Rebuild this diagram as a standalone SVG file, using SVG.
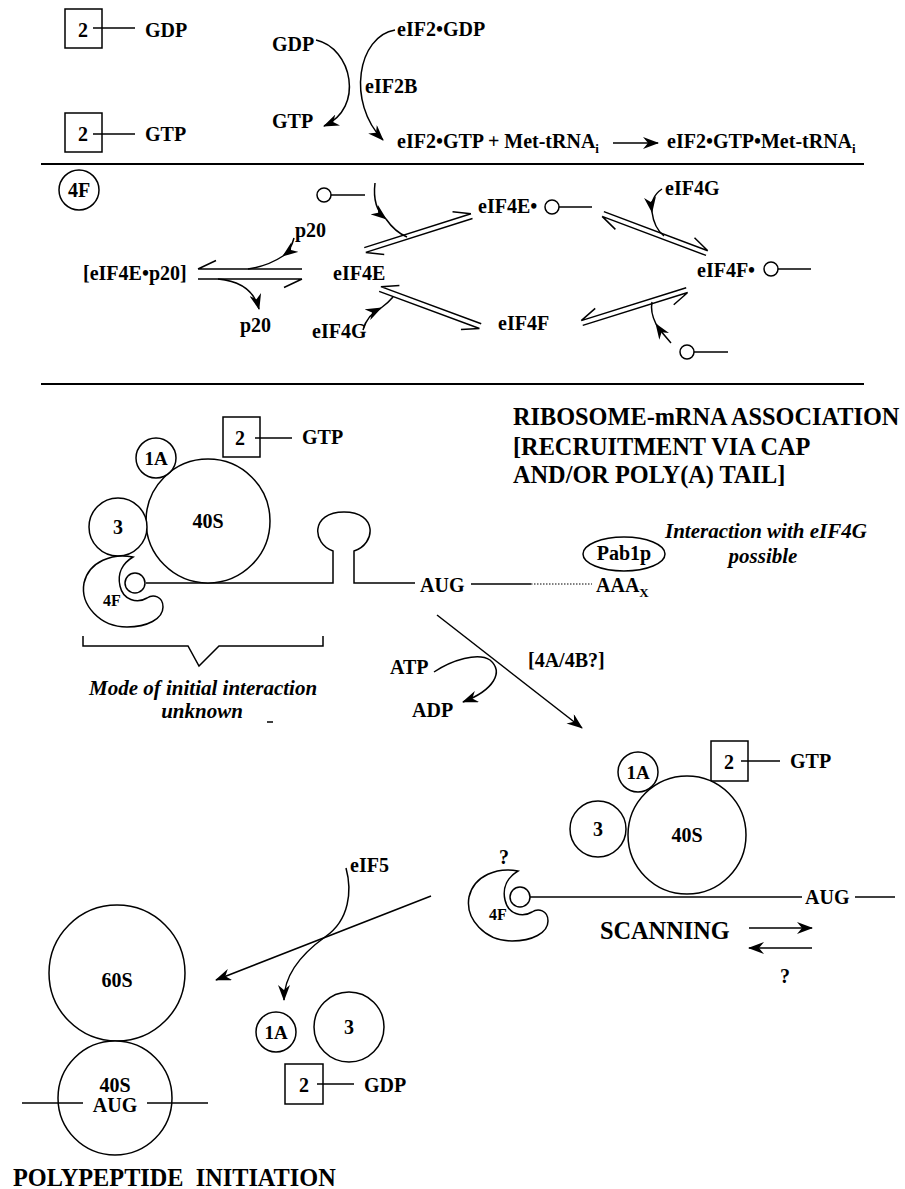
<svg xmlns="http://www.w3.org/2000/svg" width="905" height="1189" viewBox="0 0 905 1189">
<style>
.t{font-family:"Liberation Serif","Times New Roman",serif;font-weight:bold;font-size:20px;fill:#000}
.h{font-size:24.3px}
.it{font-style:italic;font-size:21px}
.sm{font-size:16px}
.sub{font-size:13px}
.m{text-anchor:middle}
.s{fill:none;stroke:#000;stroke-width:1.5}
.w{fill:#fff;stroke:#000;stroke-width:1.5}
.a{fill:none;stroke:#000;stroke-width:1.5;marker-end:url(#ah)}
.rule{stroke:#000;stroke-width:2}
</style>
<defs>
<marker id="ah" viewBox="0 0 16 12" refX="15" refY="6" markerWidth="16" markerHeight="12" markerUnits="userSpaceOnUse" orient="auto"><path d="M0,0 L16,6 L0,12 L5,6 Z" fill="#000"/></marker>
<path id="pac" d="M-2,-26 C-22,-30 -46,-22 -51,0 C-55,22 -35,44 -8,44 C12,44 28,36 28,24 C28,13 18,11 12,15 C2,21 -12,17 -15,3 C-18,-10 -12,-20 -2,-26 Z"/>
</defs>

<!-- separators -->
<line class="rule" x1="41" y1="164" x2="864" y2="164"/>
<line class="rule" x1="41" y1="384" x2="864" y2="384"/>

<!-- ===== Section 1: eIF2 recycling ===== -->
<g id="eif2-gdp-box">
<rect class="w" x="65" y="9" width="37" height="39"/>
<text class="t m" x="83" y="37">2</text>
<line class="s" x1="93" y1="28" x2="135" y2="28"/>
<text class="t" x="145" y="37">GDP</text>
</g>
<g id="eif2-gtp-box">
<rect class="w" x="65" y="113" width="37" height="39"/>
<text class="t m" x="83" y="141">2</text>
<line class="s" x1="93" y1="134" x2="135" y2="134"/>
<text class="t" x="145" y="141">GTP</text>
</g>
<g id="gdp-label"><text class="t" x="272" y="51">GDP</text></g>
<g id="gtp-label"><text class="t" x="272" y="128">GTP</text></g>
<g id="eif2b-label"><text class="t" x="365" y="93">eIF2B</text></g>
<g id="eif2-gdp"><text class="t" x="397" y="36">eIF2•GDP</text></g>
<g id="eif2-gtp-met"><text class="t" x="397" y="148">eIF2•GTP + Met-tRNA<tspan class="sub" dy="5">i</tspan></text></g>
<g id="ternary"><text class="t" x="667" y="148">eIF2•GTP•Met-tRNA<tspan class="sub" dy="5">i</tspan></text></g>

<!-- ===== Section 2: eIF4F ===== -->
<g id="f4-circle">
<circle class="w" cx="79" cy="190" r="20"/>
<text class="t m" x="79" y="197">4F</text>
</g>
<g id="cap-top">
<circle class="w" cx="324" cy="195" r="7"/>
<line class="s" x1="331" y1="195" x2="365" y2="195"/>
</g>
<g id="p20-top"><text class="t" x="295" y="237">p20</text></g>
<g id="eif4e-p20"><text class="t" x="83" y="280">[eIF4E•p20]</text></g>
<g id="eif4e"><text class="t" x="333" y="280">eIF4E</text></g>
<g id="p20-bottom"><text class="t" x="240" y="332">p20</text></g>
<g id="eif4g-left"><text class="t" x="312" y="338">eIF4G</text></g>
<g id="eif4e-cap">
<text class="t" x="478" y="213">eIF4E•</text>
<circle class="w" cx="552" cy="207" r="7"/>
<line class="s" x1="559" y1="207" x2="592" y2="207"/>
</g>
<g id="eif4g-right"><text class="t" x="665" y="195">eIF4G</text></g>
<g id="eif4f-cap">
<text class="t" x="697" y="277">eIF4F•</text>
<circle class="w" cx="771" cy="269" r="7"/>
<line class="s" x1="778" y1="269" x2="811" y2="269"/>
</g>
<g id="eif4f"><text class="t" x="498" y="330">eIF4F</text></g>
<g id="cap-bottom">
<circle class="w" cx="687" cy="352" r="7"/>
<line class="s" x1="694" y1="352" x2="728" y2="352"/>
</g>

<!-- ===== Section 3: ribosome-mRNA association ===== -->
<g id="heading-assoc">
<text class="t h" x="513" y="425">RIBOSOME-mRNA ASSOCIATION</text>
<text class="t h" x="513" y="455">[RECRUITMENT VIA CAP</text>
<text class="t h" x="513" y="483">AND/OR POLY(A) TAIL]</text>
</g>
<g id="assoc-eif2">
<rect class="w" x="223" y="417" width="37" height="40"/>
<text class="t m" x="240" y="445">2</text>
<line class="s" x1="255" y1="438" x2="292" y2="438"/>
<text class="t" x="302" y="444">GTP</text>
</g>
<g id="assoc-mrna">
<path class="s" d="M146,583 H333 V551 C312,544 310,512 344,512 C378,512 376,544 354,551 V583 H415"/>
<text class="t" x="420" y="592">AUG</text>
<line class="s" x1="471" y1="584" x2="531" y2="584"/>
<line x1="531" y1="584" x2="592" y2="584" stroke="#000" stroke-width="1" stroke-dasharray="1.5,1.5"/>
<text class="t" x="596" y="592">AAA<tspan class="sub" dy="5">X</tspan></text>
</g>
<g id="assoc-40s">
<circle class="w" cx="208" cy="521" r="62"/>
<text class="t m" x="208" y="528">40S</text>
</g>
<g id="assoc-1a">
<circle class="w" cx="156" cy="458" r="20"/>
<text class="t m" x="156" y="465" style="font-size:19px">1A</text>
</g>
<g id="assoc-3">
<circle class="w" cx="118" cy="527" r="29"/>
<text class="t m" x="118" y="534">3</text>
</g>
<g id="assoc-4f">
<use href="#pac" transform="translate(135,583)" class="w"/>
<circle class="w" cx="135" cy="583" r="10"/>
<text class="t sm m" x="112" y="606">4F</text>
</g>
<g id="pab1p">
<ellipse class="w" cx="624" cy="554" rx="41" ry="17"/>
<text class="t m" x="624" y="560">Pab1p</text>
</g>
<g id="pab-note">
<text class="t it" x="665" y="538">Interaction with eIF4G</text>
<text class="t it m" x="763" y="563">possible</text>
</g>
<g id="bracket">
<path class="s" d="M83,636 V646 H188 L199,666 L219,646 H323 V636"/>
<text class="t it" x="89" y="695">Mode of initial interaction</text>
<text class="t it m" x="202" y="718">unknown</text>
<line x1="267" y1="722" x2="273" y2="722" stroke="#000" stroke-width="1.5"/>
</g>
<g id="atp"><text class="t" x="390" y="674">ATP</text></g>
<g id="adp"><text class="t" x="412" y="717">ADP</text></g>
<g id="f4ab"><text class="t" x="528" y="667">[4A/4B?]</text></g>

<!-- ===== Section 4: scanning ===== -->
<g id="scan-eif2">
<rect class="w" x="711" y="741" width="37" height="40"/>
<text class="t m" x="729" y="769">2</text>
<line class="s" x1="741" y1="761" x2="780" y2="761"/>
<text class="t" x="790" y="768">GTP</text>
</g>
<g id="scan-mrna">
<line class="s" x1="530" y1="897" x2="802" y2="897"/>
<text class="t" x="805" y="904">AUG</text>
<line class="s" x1="855" y1="897" x2="895" y2="897"/>
</g>
<g id="scan-40s">
<circle class="w" cx="687" cy="835" r="59"/>
<text class="t m" x="687" y="842">40S</text>
</g>
<g id="scan-1a">
<circle class="w" cx="638" cy="772" r="20"/>
<text class="t m" x="638" y="779" style="font-size:19px">1A</text>
</g>
<g id="scan-3">
<circle class="w" cx="598" cy="829" r="28"/>
<text class="t m" x="598" y="836">3</text>
</g>
<g id="scan-4f">
<use href="#pac" transform="translate(520,897)" class="w"/>
<circle class="w" cx="520" cy="897" r="10"/>
<text class="t sm m" x="498" y="920">4F</text>
<text class="t m" x="504" y="864">?</text>
</g>
<g id="scanning-label">
<text class="t h" x="600" y="939">SCANNING</text>
<text class="t m" x="785" y="983">?</text>
</g>

<!-- ===== Section 5: polypeptide initiation ===== -->
<g id="init-60s">
<circle class="w" cx="117" cy="973" r="68"/>
<text class="t m" x="117" y="987">60S</text>
</g>
<g id="init-40s">
<circle class="w" cx="115" cy="1098" r="57"/>
<line class="s" x1="22" y1="1103" x2="83" y2="1103"/>
<line class="s" x1="147" y1="1103" x2="208" y2="1103"/>
<text class="t m" x="115" y="1092">40S</text>
<text class="t m" x="115" y="1112">AUG</text>
</g>
<g id="eif5"><text class="t" x="350" y="872">eIF5</text></g>
<g id="rel-1a">
<circle class="w" cx="276" cy="1032" r="20"/>
<text class="t m" x="276" y="1039" style="font-size:19px">1A</text>
</g>
<g id="rel-3">
<circle class="w" cx="349" cy="1027" r="35"/>
<text class="t m" x="349" y="1034">3</text>
</g>
<g id="rel-eif2">
<rect class="w" x="285" y="1064" width="38" height="40"/>
<text class="t m" x="304" y="1092">2</text>
<line class="s" x1="317" y1="1084" x2="354" y2="1084"/>
<text class="t" x="364" y="1092">GDP</text>
</g>
<g id="init-label"><text class="t h" x="13" y="1186" xml:space="preserve">POLYPEPTIDE  INITIATION</text></g>

<!-- ===== Connectors ===== -->
<g id="connectors">
<!-- eIF2B exchange -->
<path class="a" d="M316,40 C352,48 365,108 324,126"/>
<path class="a" d="M395,30 C358,36 346,102 383,140"/>
<line class="a" x1="613" y1="143" x2="658" y2="143"/>
<!-- equilibria -->
<g class="s">
<path transform="translate(198,274)" d="M0,-5 H104 M0,-5 l18,-8.5 M0,5 H104 M104,5 l-18,8.5"/>
<path transform="translate(365,250) rotate(-17.6) scale(1,-1)" d="M0,-2.5 H112 M0,-2.5 l17,-7.5 M0,2.5 H112 M112,2.5 l-17,7.5"/>
<path transform="translate(380,289) rotate(20.3)" d="M0,-2.5 H107 M0,-2.5 l17,-7.5 M0,2.5 H107 M107,2.5 l-17,7.5"/>
<path transform="translate(603,214) rotate(20.6) scale(1,-1)" d="M0,-2.5 H111 M0,-2.5 l17,-7.5 M0,2.5 H111 M111,2.5 l-17,7.5"/>
<path transform="translate(582,323) rotate(-17.4)" d="M0,-2.5 H110 M0,-2.5 l17,-7.5 M0,2.5 H110 M110,2.5 l-17,7.5"/>
</g>
<!-- reagent curves -->
<path class="a" d="M294,238 Q291,250 283,256"/>
<path class="s" d="M283,256 Q268,266 248,269"/>
<path class="a" d="M218,279 Q252,282 259,309"/>
<path class="a" d="M375,183 Q372,208 386,219"/>
<path class="s" d="M386,219 Q395,232 407,237"/>
<path class="a" d="M363,330 Q367,315 381,308"/>
<path class="s" d="M381,308 Q388,303 393,297"/>
<path class="a" d="M662,189 Q650,197 652,212"/>
<path class="s" d="M652,212 Q654,228 664,236"/>
<path class="a" d="M671,343 Q662,333 656,324"/>
<path class="s" d="M656,324 Q650,312 652,302"/>
<!-- association to scanning -->
<line class="a" x1="437" y1="615" x2="582" y2="728"/>
<path class="a" d="M434,672 C452,660 478,652 490,660 C504,672 494,690 463,702"/>
<!-- scanning arrows -->
<line class="a" x1="749" y1="928" x2="812" y2="928"/>
<line class="a" x1="812" y1="948" x2="749" y2="948"/>
<!-- to initiation -->
<line class="a" x1="431" y1="896" x2="216" y2="980"/>
<path class="a" d="M346,868 C352,890 350,920 325,937 C300,955 284,975 284,1000"/>
</g>
</svg>
